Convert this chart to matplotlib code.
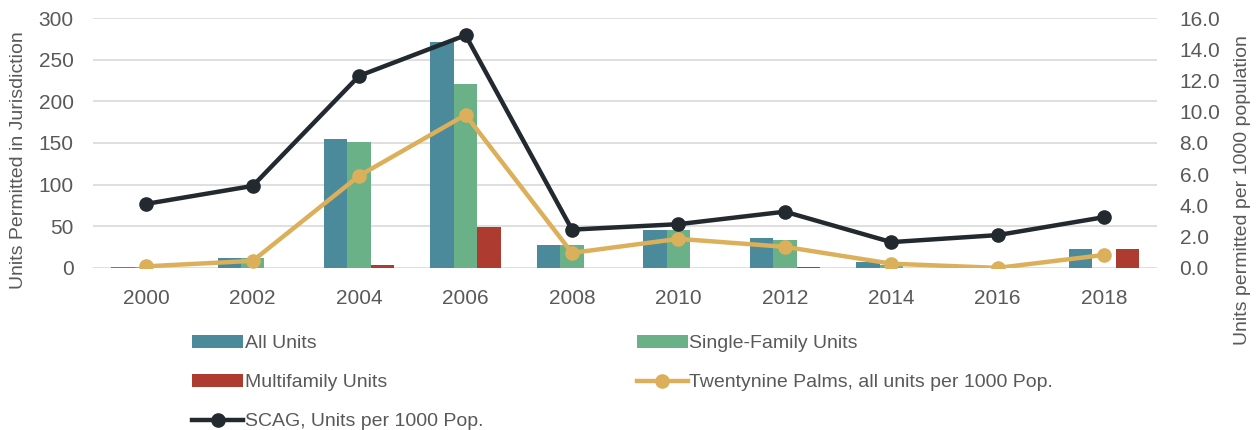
import matplotlib.pyplot as plt
import numpy as np

years = ['2000', '2002', '2004', '2006', '2008', '2010', '2012', '2014', '2016', '2018']
all_units = [1, 12, 155, 271, 28, 46, 36, 7, 0, 23]
single_family = [1, 12, 151, 221, 28, 46, 33, 3, 0, 0]
multifamily = [0, 0, 3, 49, 0, 0, 1, 0, 0, 23]
tp_per_1000 = [0.1, 0.45, 5.9, 9.8, 0.96, 1.86, 1.35, 0.27, 0.0, 0.83]
scag_per_1000 = [4.1, 5.25, 12.3, 14.9, 2.45, 2.8, 3.6, 1.65, 2.1, 3.25]

c_all = '#4a8a9a'
c_sf = '#6ab187'
c_mf = '#ad3b30'
c_tp = '#dcb05a'
c_scag = '#22292f'
txt = '#595959'

plt.rcParams['font.family'] = ['Liberation Sans', 'DejaVu Sans']

fig = plt.figure(figsize=(12.58, 4.30), dpi=100)
ax = fig.add_axes([0.074, 0.377, 0.846, 0.581])
ax2 = ax.twinx()

x = np.arange(len(years))
w = 0.22
b1 = ax.bar(x - w, all_units, w, color=c_all, label='All Units')
b2 = ax.bar(x, single_family, w, color=c_sf, label='Single-Family Units')
b3 = ax.bar(x + w, multifamily, w, color=c_mf, label='Multifamily Units')

l1, = ax2.plot(x, tp_per_1000, color=c_tp, lw=3.2, marker='o', ms=9.5,
               label='Twentynine Palms, all units per 1000 Pop.')
l2, = ax2.plot(x, scag_per_1000, color=c_scag, lw=3.2, marker='o', ms=9.5,
               label='SCAG, Units per 1000 Pop.')

ax.set_xlim(-0.5, len(years) - 0.5)
ax.set_ylim(0, 300)
ax.set_yticks(range(0, 301, 50))
ax2.set_ylim(0, 16)
ax2.set_yticks(np.arange(0, 16.1, 2))
ax2.set_yticklabels([f'{v:.1f}' for v in np.arange(0, 16.1, 2)])
ax.set_xticks(x)
ax.set_xticklabels(years)

ax.grid(axis='y', color='#d9d9d9', lw=1.2)
ax.set_axisbelow(True)
for a in (ax, ax2):
    for s in a.spines.values():
        s.set_visible(False)
    a.tick_params(length=0, labelsize=15, colors=txt)
ax.tick_params(axis='y', pad=14)
ax2.tick_params(axis='y', pad=16)
ax.tick_params(axis='x', pad=15)

ax.set_ylabel('Units Permitted in Jurisdiction', fontsize=14, color=txt)
ax2.set_ylabel('Units permitted per 1000 population', fontsize=14, color=txt)
ax.yaxis.set_label_coords(-0.062, 0.432)
ax2.yaxis.set_label_coords(1.072, 0.312)

handles = [b1, b3, l2, b2, l1]
fig.legend(handles=handles, labels=[h.get_label() for h in handles],
           ncol=2, loc='upper left', bbox_to_anchor=(0.139, 0.262),
           frameon=False, fontsize=14, labelcolor=txt,
           columnspacing=7.9, handlelength=2.6, handletextpad=0.1,
           labelspacing=1.1)

fig.savefig('out.png', dpi=100)
